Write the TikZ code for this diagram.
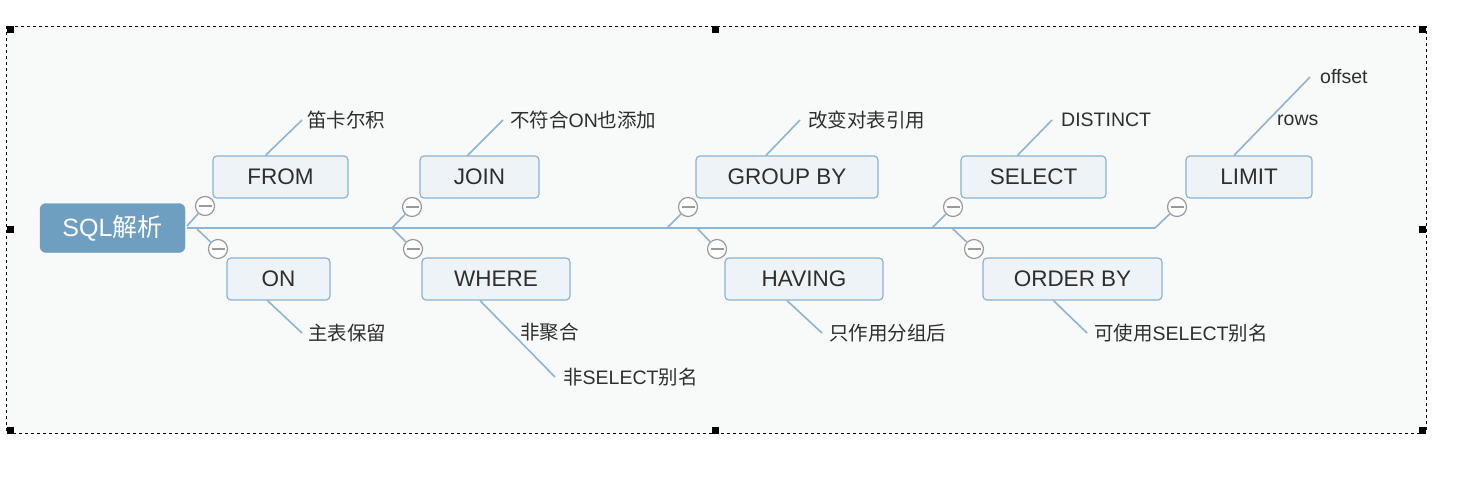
\documentclass[tikz,border=0pt]{standalone}
\usepackage{fontspec}
\setmainfont{Liberation Sans}
\newfontfamily\cjk{Noto Sans CJK SC}
\definecolor{bgc}{HTML}{F8FAF9}
\definecolor{rootc}{HTML}{6E9FC0}
\definecolor{boxf}{HTML}{EDF3F7}
\definecolor{boxd}{HTML}{8CB3D1}
\definecolor{linec}{HTML}{8DB4D2}
\definecolor{txtc}{HTML}{2E2E2E}
\definecolor{circd}{HTML}{9A9A9A}
\tikzset{
  rootbox/.style={draw=rootc, fill=rootc, rounded corners=6pt, text=white, inner sep=0pt,
    minimum width=145pt, minimum height=49pt, font=\fontsize{25}{28}\selectfont},
  topicbox/.style={draw=boxd, fill=boxf, line width=1.2pt, rounded corners=4pt, text=txtc, inner sep=0pt,
    minimum height=42pt, font=\fontsize{22.5}{26}\selectfont},
  leaf/.style={anchor=west, text=txtc, inner sep=0pt, font=\fontsize{19.5}{22}\selectfont},
  conn/.style={draw=linec, line width=1.6pt},
  collapse/.style={circle, draw=circd, fill=white, line width=1.2pt, minimum size=19pt, inner sep=0pt,
    path picture={\draw[circd, line width=1.2pt] ([xshift=-6.5pt]path picture bounding box.center) -- ([xshift=6.5pt]path picture bounding box.center);}},
  handle/.style={fill=black, minimum size=7pt, inner sep=0pt},
}
\begin{document}
\begin{tikzpicture}[x=1pt,y=-1pt]
\useasboundingbox (0,0) rectangle (1474,477);
\fill[white] (0,0) rectangle (1474,477);
\fill[bgc] (6,26) rectangle (1426,433);
\draw[black, line width=1pt, dash pattern=on 3pt off 3pt] (6,26) rectangle (1426,433);
\foreach \hx/\hy [count=\i] in {10/29,715/29,1422/29,10/229,1422/229,10/430,715/430,1422/430}
  \node[handle] (h\i) at (\hx,\hy) {};

% junction coordinates
\coordinate (r1) at (187,226);
\coordinate (r2) at (197,229);
\coordinate (j2) at (392,228);
\coordinate (j3) at (667,228);
\coordinate (j3b) at (697,228);
\coordinate (j4) at (932,228);
\coordinate (j4b) at (952,228);
\coordinate (j5) at (1155,228);

% topic boxes
\node[topicbox, minimum width=135pt] (from) at (280.5,177) {FROM};
\node[topicbox, minimum width=103pt] (on) at (278.5,279) {ON};
\node[topicbox, minimum width=119pt] (join) at (479.5,177) {JOIN};
\node[topicbox, minimum width=148pt] (where) at (496,279) {WHERE};
\node[topicbox, minimum width=182pt] (groupby) at (787,177) {GROUP BY};
\node[topicbox, minimum width=158pt] (having) at (804,279) {HAVING};
\node[topicbox, minimum width=145pt] (select) at (1033.5,177) {SELECT};
\node[topicbox, minimum width=179pt] (orderby) at (1072.5,279) {ORDER BY};
\node[topicbox, minimum width=126pt] (limit) at (1249,177) {LIMIT};

% spine
\draw[conn] (187,228) -- (j2) -- (j3) -- (j4) -- (j5);

% root
\node[rootbox] (root) at (112.5,228) {SQL{\cjk 解析}};

% collapse circles
\node[collapse] (cfrom) at (205,206) {};
\node[collapse] (con) at (218,249) {};
\node[collapse] (cjoin) at (412,207) {};
\node[collapse] (cwhere) at (413,249) {};
\node[collapse] (cgroupby) at (688,207) {};
\node[collapse] (chaving) at (717,249) {};
\node[collapse] (cselect) at (953,207) {};
\node[collapse] (corderby) at (974,249) {};
\node[collapse] (climit) at (1177,207) {};

% branch connectors
\draw[conn] (r1) -- (cfrom);
\draw[conn] (r2) -- (con);
\draw[conn] (j2) -- (cjoin);
\draw[conn] (j2) -- (cwhere);
\draw[conn] (j3) -- (cgroupby);
\draw[conn] (j3b) -- (chaving);
\draw[conn] (j4) -- (cselect);
\draw[conn] (j4b) -- (corderby);
\draw[conn] (j5) -- (climit);

% leaf texts
\node[leaf] (l1) at (307,120) {\cjk 笛卡尔积};
\node[leaf] (l2) at (308,333) {\cjk 主表保留};
\node[leaf] (l3) at (510,120) {{\cjk 不符合}ON{\cjk 也添加}};
\node[leaf] (l4) at (520,332) {\cjk 非聚合};
\node[leaf] (l5) at (563,377) {{\cjk 非}SELECT{\cjk 别名}};
\node[leaf] (l6) at (808,120) {\cjk 改变对表引用};
\node[leaf] (l7) at (829,333) {\cjk 只作用分组后};
\node[leaf] (l8) at (1061,120) {DISTINCT};
\node[leaf] (l9) at (1094,333) {{\cjk 可使用}SELECT{\cjk 别名}};
\node[leaf] (l10) at (1320,77) {offset};
\node[leaf] (l11) at (1277,120) {rows};

% leaf connectors
\draw[conn] ([xshift=-15pt]from.north) -- ([xshift=-5pt]l1.west);
\draw[conn] ([xshift=-11pt]on.south) -- ([xshift=-6pt]l2.west);
\draw[conn] ([xshift=-12pt]join.north) -- ([xshift=-7pt]l3.west);
\draw[conn] ([xshift=-16pt]where.south) -- ([xshift=-8pt]l5.west);
\draw[conn] ([xshift=-21pt]groupby.north) -- ([xshift=-8pt]l6.west);
\draw[conn] ([xshift=-17pt]having.south) -- ([xshift=-7pt]l7.west);
\draw[conn] ([xshift=-16pt]select.north) -- ([xshift=-9pt]l8.west);
\draw[conn] ([xshift=-19pt]orderby.south) -- ([xshift=-7pt]l9.west);
\draw[conn] ([xshift=-15pt]limit.north) -- ([xshift=-10pt]l10.west);
\end{tikzpicture}
\end{document}
